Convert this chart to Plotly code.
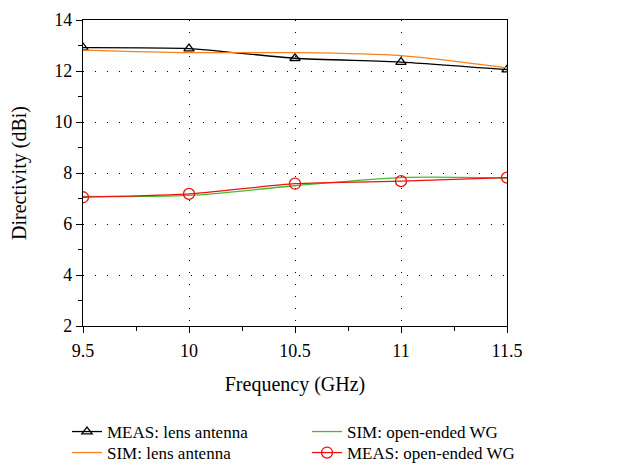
import plotly.graph_objects as go

freq = [9.5, 10, 10.5, 11, 11.5]
meas_lens = [12.92, 12.88, 12.50, 12.35, 12.05]
sim_lens = [12.82, 12.72, 12.72, 12.60, 12.12]
sim_wg = [7.08, 7.12, 7.50, 7.82, 7.80]
meas_wg = [7.05, 7.18, 7.58, 7.68, 7.82]
tick_labels = ["9.5", "10", "10.5", "11", "11.5"]

FONT = "Liberation Serif"

fig = go.Figure()
fig.add_trace(go.Scatter(x=freq, y=meas_lens, name="MEAS: lens antenna", mode="lines+markers", legend="legend",
                         line=dict(color="black", width=1.3, shape="spline", smoothing=0.6),
                         marker=dict(symbol="triangle-up-open", size=9, color="black", line=dict(width=1.3))))
fig.add_trace(go.Scatter(x=freq, y=sim_lens, name="SIM: lens antenna", mode="lines", legend="legend2",
                         line=dict(color="#f5821f", width=1.3, shape="spline", smoothing=0.8)))
fig.add_trace(go.Scatter(x=freq, y=sim_wg, name="SIM: open-ended WG", mode="lines", legend="legend3",
                         line=dict(color="#48bb2a", width=1.3, shape="spline", smoothing=0.8)))
fig.add_trace(go.Scatter(x=freq, y=meas_wg, name="MEAS: open-ended WG", mode="lines+markers", legend="legend4",
                         line=dict(color="#ee1111", width=1.3, shape="spline", smoothing=0.6),
                         marker=dict(symbol="circle-open", size=11, color="#ee1111", line=dict(width=1.3))))

leg_common = dict(orientation="v", xanchor="left", yanchor="middle",
                  tracegroupgap=0, font=dict(family=FONT, size=17, color="black"), bgcolor="rgba(0,0,0,0)")

PW, PH = 424, 306
row1, row2 = -(432 - 326) / PH, -(453 - 326) / PH
col1, col2 = -16 / PW, 224 / PW

fig.update_layout(
    width=620, height=466,
    margin=dict(l=83, r=113, t=20, b=140, autoexpand=False),
    paper_bgcolor="white", plot_bgcolor="white",
    font=dict(family=FONT, size=17, color="black"),
    legend=dict(x=col1, y=row1, **leg_common),
    legend2=dict(x=col1, y=row2, **leg_common),
    legend3=dict(x=col2, y=row1, **leg_common),
    legend4=dict(x=col2, y=row2, **leg_common),
    showlegend=True,
)
tf = dict(family=FONT, size=18, color="black")
fig.update_xaxes(range=[9.5, 11.5], tickvals=freq, ticktext=tick_labels,
                 showline=True, linecolor="black", linewidth=1.3, mirror=True,
                 ticks="outside", ticklen=6, tickcolor="black", ticklabelstandoff=2,
                 minor=dict(dtick=0.25, ticks="outside", ticklen=4, tickcolor="black", showgrid=False),
                 showgrid=True, gridcolor="black", gridwidth=1, griddash="1px,11px",
                 zeroline=False, title=dict(text="Frequency (GHz)", standoff=17),
                 tickfont=tf)
fig.update_yaxes(range=[2, 14], dtick=2,
                 showline=True, linecolor="black", linewidth=1.3, mirror=True,
                 ticks="outside", ticklen=6, tickcolor="black",
                 minor=dict(dtick=1, ticks="outside", ticklen=4, tickcolor="black", showgrid=False),
                 showgrid=True, gridcolor="black", gridwidth=1, griddash="1px,11px",
                 zeroline=False, title=dict(text="Directivity (dBi)", standoff=22),
                 tickfont=tf)

fig.write_html("out.html")
